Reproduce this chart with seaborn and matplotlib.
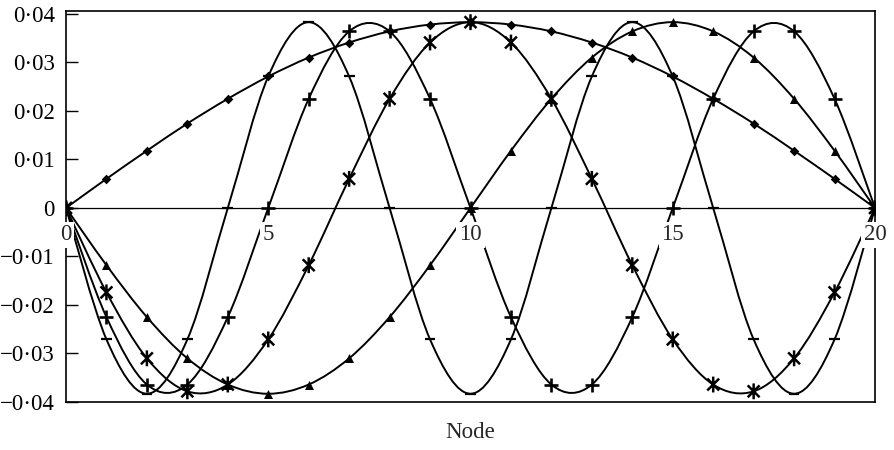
import numpy as np
import pandas as pd
import matplotlib
matplotlib.use("Agg")
import matplotlib.pyplot as plt
from matplotlib.path import Path
from matplotlib.patches import PathPatch
import seaborn as sns

# Node numbers along the string
nodes = list(range(21))

# Mode shapes (displacement at each node)
mode1 = [0.0, 0.0060, 0.0118, 0.0174, 0.0225, 0.0271, 0.0310, 0.0341, 0.0364, 0.0378, 0.0383,
         0.0378, 0.0364, 0.0341, 0.0310, 0.0271, 0.0225, 0.0174, 0.0118, 0.0060, 0.0]
mode2 = [0.0, -0.0118, -0.0225, -0.0310, -0.0364, -0.0383, -0.0364, -0.0310, -0.0225, -0.0118, 0.0,
         0.0118, 0.0225, 0.0310, 0.0364, 0.0383, 0.0364, 0.0310, 0.0225, 0.0118, 0.0]
mode3 = [0.0, -0.0174, -0.0310, -0.0378, -0.0364, -0.0271, -0.0118, 0.0060, 0.0225, 0.0341, 0.0383,
         0.0341, 0.0225, 0.0060, -0.0118, -0.0271, -0.0364, -0.0378, -0.0310, -0.0174, 0.0]
mode4 = [0.0, -0.0225, -0.0364, -0.0364, -0.0225, 0.0, 0.0225, 0.0364, 0.0364, 0.0225, 0.0,
         -0.0225, -0.0364, -0.0364, -0.0225, 0.0, 0.0225, 0.0364, 0.0364, 0.0225, 0.0]
mode5 = [0.0, -0.0271, -0.0383, -0.0271, 0.0, 0.0271, 0.0383, 0.0271, 0.0, -0.0271, -0.0383,
         -0.0271, 0.0, 0.0271, 0.0383, 0.0271, 0.0, -0.0271, -0.0383, -0.0271, 0.0]

y_ticks = [-0.04, -0.03, -0.02, -0.01, 0.0, 0.01, 0.02, 0.03, 0.04]
y_tick_labels = ["\u22120\u00b704", "\u22120\u00b703", "\u22120\u00b702", "\u22120\u00b701", "0",
                 "0\u00b701", "0\u00b702", "0\u00b703", "0\u00b704"]
x_ticks = [0, 5, 10, 15, 20]
x_tick_labels = ["0", "5", "10", "15", "20"]
x_title = "Node"

sns.set_theme(style="white")
plt.rcParams["font.family"] = ["Liberation Serif", "DejaVu Serif"]

FS = 16.5

# asterisk marker: an X with a vertical bar
ast_marker = Path(
    [(-0.75, -0.75), (0.75, 0.75), (-0.75, 0.75), (0.75, -0.75), (0, -1.0), (0, 1.0)],
    [Path.MOVETO, Path.LINETO, Path.MOVETO, Path.LINETO, Path.MOVETO, Path.LINETO],
)
# short horizontal dash marker
dash_marker = Path([(-1, 0), (1, 0)], [Path.MOVETO, Path.LINETO])


def smooth_path(x, y, k=1.0 / 6.0):
    """Bezier path through every point (Catmull-Rom style smoothing)."""
    pts = np.column_stack([x, y]).astype(float)
    n = len(pts)
    verts = [pts[0]]
    codes = [Path.MOVETO]
    for i in range(n - 1):
        p0 = pts[i - 1] if i > 0 else pts[i]
        p1 = pts[i]
        p2 = pts[i + 1]
        p3 = pts[i + 2] if i + 2 < n else pts[i + 1]
        c1 = p1 + (p2 - p0) * k
        c2 = p2 - (p3 - p1) * k
        verts += [c1, c2, p2]
        codes += [Path.CURVE4] * 3
    return Path(verts, codes)


fig = plt.figure(figsize=(8.94, 4.5), dpi=100)
ax = fig.add_axes([66 / 894, 1 - 402 / 450, (875 - 66) / 894, (402 - 11) / 450])

series = [
    (mode1, dict(marker="D", s=24, color="black", linewidth=0)),
    (mode2, dict(marker="^", s=42, color="black", linewidth=0)),
    (mode3, dict(marker=ast_marker, s=130, facecolor="none", edgecolor="black", linewidth=1.8)),
    (mode4, dict(marker="+", s=110, color="black", linewidth=1.9)),
    (mode5, dict(marker=dash_marker, s=60, facecolor="none", edgecolor="black", linewidth=1.6)),
]

ax.axhline(0, color="black", lw=0.9, zorder=1)

for vals, mk in series:
    ax.add_patch(PathPatch(smooth_path(nodes, vals), fill=False, edgecolor="black",
                           lw=1.4, zorder=2, capstyle="round"))
    df = pd.DataFrame({"node": nodes, "value": vals})
    sns.scatterplot(data=df, x="node", y="value", ax=ax, zorder=3, legend=False, **mk)

ax.set_xlim(0, 20)
ax.set_ylim(-0.04, 0.0406)

ax.set_yticks(y_ticks)
ax.set_yticklabels(y_tick_labels)
ax.tick_params(axis="y", direction="in", length=8.5, width=1.0, pad=8,
               labelsize=FS, left=True, colors="black")
ax.set_xticks([])
ax.set_xlabel(x_title, fontsize=FS, va="center")
ax.xaxis.set_label_coords(0.5, (402 - 433) / 391)
ax.set_ylabel("")

for xt, lab in zip(x_ticks, x_tick_labels):
    ax.annotate(lab, xy=(xt, 0), xytext=(0, -27), textcoords="offset pixels",
                ha="center", va="center", fontsize=FS, zorder=5,
                bbox=dict(boxstyle="square,pad=0.12", fc="white", ec="none"),
                annotation_clip=False)

for sp in ax.spines.values():
    sp.set_visible(True)
    sp.set_color("black")
    sp.set_linewidth(1.2)

fig.savefig("out.png", dpi=100, facecolor="white")
